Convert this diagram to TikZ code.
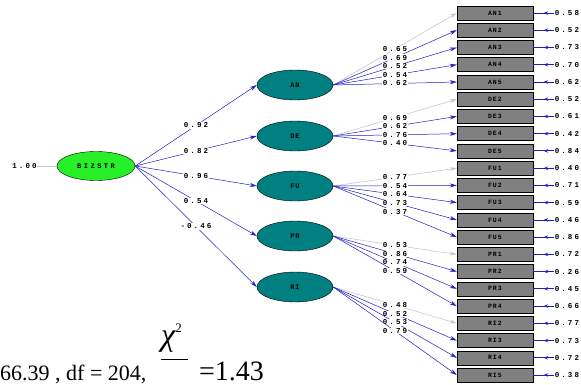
\documentclass[tikz,border=0pt]{standalone}
\usepackage{fontspec}
\setmainfont{Liberation Serif}
\newfontfamily\lmono[LetterSpace=28]{Liberation Mono}
\newfontfamily\bmono[LetterSpace=12]{Liberation Mono}
\newfontfamily\zmono[LetterSpace=36]{Liberation Mono}
\usetikzlibrary{arrows.meta,decorations.markings,shapes.geometric}
\definecolor{boxgray}{RGB}{128,128,128}
\definecolor{tealc}{RGB}{0,128,128}
\definecolor{lgreen}{RGB}{40,240,40}
\definecolor{pblue}{RGB}{30,30,200}
\definecolor{lgray}{RGB}{200,200,200}
\tikzset{
  obs/.style={draw=black, fill=boxgray, minimum width=76pt, minimum height=14pt, inner sep=0pt, font=\bmono\bfseries\fontsize{6.5}{7}\selectfont},
  lat/.style={ellipse, draw=black, fill=tealc, minimum width=76pt, minimum height=30pt, inner sep=0pt, font=\bmono\bfseries\fontsize{7}{8}\selectfont},
  val/.style={font=\lmono\bfseries\fontsize{7.5}{8}\selectfont, inner sep=0.6pt},
  lbl/.style={val, fill=white},
  load/.style={draw=pblue, line width=0.5pt, -{Stealth[length=7pt,width=4pt]}},
  fixd/.style={draw=lgray, line width=0.6pt, -{Stealth[length=7pt,width=4pt]}},
  errarr/.style={draw=pblue, line width=0.8pt, postaction={decorate},
    decoration={markings, mark=at position 0.5 with {\arrow{Stealth[length=4.5pt,width=3.5pt]}}}},
}
\begin{document}
\begin{tikzpicture}[x=1pt,y=-1pt]
\useasboundingbox (0,0) rectangle (581,385);
% observed indicators
\foreach \nm/\lab/\yy/\ev in {
 an1/AN\,1/13.0/0.58, an2/AN\,2/30.2/0.52, an3/AN\,3/47.5/0.73, an4/AN\,4/64.7/0.70, an5/AN\,5/82.0/0.62,
 de2/DE\,2/99.2/0.52, de3/DE\,3/116.4/0.61, de4/DE\,4/133.7/0.42, de5/DE\,5/150.9/0.84,
 fu1/FU\,1/168.2/0.40, fu2/FU\,2/185.4/0.71, fu3/FU\,3/202.6/0.59, fu4/FU\,4/219.9/0.46, fu5/FU\,5/237.1/0.86,
 pr1/PR\,1/254.4/0.72, pr2/PR\,2/271.6/0.26, pr3/PR\,3/288.8/0.45, pr4/PR\,4/306.1/0.66,
 ri2/RI\,2/323.3/0.77, ri3/RI\,3/340.6/0.73, ri4/RI\,4/357.8/0.72, ri5/RI\,5/375.0/0.38}
{
  \node[obs] (\nm) at (495,\yy) {\lab};
  \node[val, anchor=west] (e\nm) at (554,\yy) {\ev};
  \draw[errarr] (e\nm.west) -- (\nm.east);
}
% latent variables
\foreach \nm/\yy in {AN/85, DE/136, FU/186, PR/236, RI/287}
  \node[lat] (\nm) at (295,\yy) {\nm};
\node[ellipse, draw=black, fill=lgreen, minimum width=78pt, minimum height=29pt, inner sep=0pt,
      font=\zmono\bfseries\fontsize{7}{8}\selectfont] (biz) at (96,166) {BIZSTR};
\node[val] (one) at (24.5,166) {1.00};
\draw[lgray, line width=0.6pt] (one.east) -- (biz.west);
% structural paths
\foreach \l/\v in {AN/0.92, DE/0.82, FU/0.96, PR/0.54, RI/-0.46}
  \draw[load] (biz.east) -- node[lbl] {\v} (\l.west);
% loadings
\foreach \l/\o/\v/\st in {
 AN/an1/0.65/fixd, AN/an2/0.69/load, AN/an3/0.52/load, AN/an4/0.54/load, AN/an5/0.62/load,
 DE/de2/0.69/fixd, DE/de3/0.62/load, DE/de4/0.76/load, DE/de5/0.40/load,
 FU/fu1/0.77/fixd, FU/fu2/0.54/load, FU/fu3/0.64/load, FU/fu4/0.73/load, FU/fu5/0.37/load,
 PR/pr1/0.53/fixd, PR/pr2/0.86/load, PR/pr3/0.74/load, PR/pr4/0.59/load,
 RI/ri2/0.48/fixd, RI/ri3/0.52/load, RI/ri4/0.53/load, RI/ri5/0.79/load}
  \draw[\st] (\l.east) -- node[lbl] {\v} (\o.west);
% fit statistics
\node[anchor=base west, inner sep=0pt, font=\fontsize{22}{24}\selectfont] (fit) at (0,380) {66.39 , df = 204,};
\node[anchor=base west, inner sep=0pt, font=\fontsize{32}{34}\selectfont] (chi) at (161,345)
  {\itshape χ\raisebox{13pt}{\upshape\fontsize{13}{13}\selectfont 2}};
\coordinate (barl) at (161,359);
\coordinate (barr) at (188,359);
\draw[line width=0.9pt] (barl) -- (barr);
\node[anchor=base west, inner sep=0pt, font=\fontsize{28}{30}\selectfont] (ratio) at (199,380) {=1.43};
\end{tikzpicture}
\end{document}
